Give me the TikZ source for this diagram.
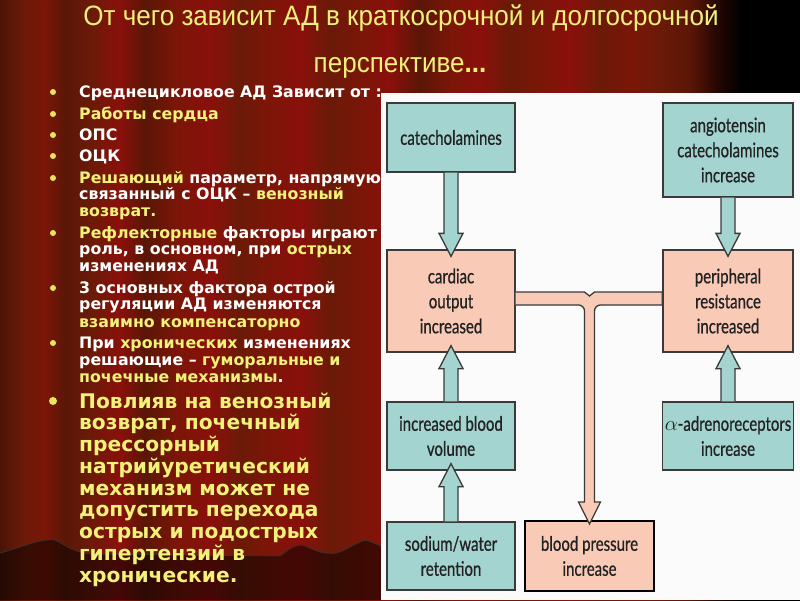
\documentclass[tikz,border=0pt]{standalone}
\usepackage{fontspec}
\setmainfont{DejaVu Sans}
\newfontfamily\titlefont[FakeStretch=0.93]{Liberation Sans}
\newfontfamily\bodyfont{DejaVu Sans}
\newfontfamily\boxfont[FakeStretch=0.75,FakeBold=0.7]{Lato}
\usetikzlibrary{calc}
\definecolor{teal1}{HTML}{A3D4CF}
\definecolor{pink1}{HTML}{F9CAB6}
\definecolor{boxline}{HTML}{3A3A3A}
\definecolor{boxtext}{HTML}{222222}
\definecolor{ytext}{HTML}{F2F27A}
\definecolor{ttext}{HTML}{F0F07C}
\definecolor{bulletcol}{HTML}{E6E65A}
\definecolor{panelcol}{HTML}{FBFBFB}
\definecolor{cA}{HTML}{4A1407}
\definecolor{cB}{HTML}{6B1A08}
\definecolor{cC}{HTML}{8A100B}
\definecolor{cD}{HTML}{7A1608}
\definecolor{cE}{HTML}{5A1606}
\definecolor{cF}{HTML}{2A0803}
\definecolor{cK}{HTML}{000000}
\newcommand\Y[1]{\textcolor{ytext}{#1}}
\newcommand\txtline[4]{\node[#1, anchor=base west] (#2) at (79,#3) {#4};}
\newcommand\downblock[3]{%
  \draw[blockline,fill=#3] let \p1=(#1.south), \p2=(#2.north) in
  (\x1-7pt,\y1) -- (\x1-7pt,\y2+16pt) -- (\x1-12pt,\y2+16pt) -- (\x1,\y2-7pt)
  -- (\x1+12pt,\y2+16pt) -- (\x1+7pt,\y2+16pt) -- (\x1+7pt,\y1);}
\newcommand\upblock[3]{%
  \draw[blockline,fill=#3] let \p1=(#1.north), \p2=(#2.south) in
  (\x1-7pt,\y1) -- (\x1-7pt,\y2-16pt) -- (\x1-12pt,\y2-16pt) -- (\x1,\y2+7pt)
  -- (\x1+12pt,\y2-16pt) -- (\x1+7pt,\y2-16pt) -- (\x1+7pt,\y1);}
\tikzset{
  smalltxt/.style={font=\bodyfont\bfseries\fontsize{15.8}{17}\selectfont, text=white, inner sep=0pt},
  bigtxt/.style={font=\bodyfont\bfseries\fontsize{20.2}{21}\selectfont, text=ytext, inner sep=0pt},
  titletxt/.style={font=\titlefont\fontsize{28}{30}\selectfont, text=ttext, inner sep=0pt, anchor=base},
  boxbase/.style={draw=boxline, line width=1.3pt, inner sep=2pt, align=center,
    font=\boxfont\fontsize{20}{25}\selectfont, text=boxtext},
  tealbox/.style={boxbase, fill=teal1},
  pinkbox/.style={boxbase, fill=pink1},
  blockline/.style={draw=boxline, line width=1.3pt, line join=miter},
}
\begin{document}
\begin{tikzpicture}[x=1pt,y=-1pt]
\useasboundingbox (0,0) rectangle (800,600);
% curtain background
\foreach \xa/\xb/\ca/\cb in {0/22/cA/cB,22/45/cB/cD,45/65/cD/cE,65/90/cE/cB,90/120/cB/cC,
  120/145/cC/cE,145/175/cE/cD,175/210/cD/cC,210/240/cC/cB,240/265/cB/cD,265/300/cD/cC,
  300/330/cC/cB,330/360/cB/cD,360/390/cD/cC,390/420/cC/cE,420/450/cE/cD,450/480/cD/cC,
  480/510/cC/cB,510/540/cB/cD,540/570/cD/cC,570/600/cC/cB,600/630/cB/cD,630/660/cD/cB,
  660/690/cB/cE,690/715/cE/cF,715/740/cF/cK,740/800/cK/cK}
  {\shade[left color=\ca,right color=\cb] (\xa-0.4,0) rectangle (\xb+0.4,600);}
% bottom stage curtain
\fill[black,opacity=0.5] (0,600) -- (0,553) .. controls (20,548) and (40,538) .. (55,540)
  .. controls (65,545) and (75,553) .. (92,554) -- (280,556)
  .. controls (288,550) and (294,545) .. (302,545) .. controls (312,548) and (320,555) .. (336,553)
  .. controls (348,550) and (356,542) .. (366,540) -- (381,546) -- (381,600) -- cycle;
\draw[black!80,line width=0.8pt] (0,553) .. controls (20,548) and (40,538) .. (55,540)
  .. controls (65,545) and (75,553) .. (92,554) -- (280,556)
  .. controls (288,550) and (294,545) .. (302,545) .. controls (312,548) and (320,555) .. (336,553)
  .. controls (348,550) and (356,542) .. (366,540) -- (381,546);
% title
\node[titletxt] (t1) at (401,25) {От чего зависит АД в краткосрочной и долгосрочной};
\node[titletxt] (t2) at (400,72) {перспективе{\bfseries...}};
% bullets
\foreach \yy in {92,114,135,156,178,233,288,343} {\fill[bulletcol] (53,\yy) circle (3pt);}
\fill[bulletcol] (53,401) circle (4pt);
\txtline{smalltxt}{b1}{97}{Среднецикловое АД Зависит от :}
\txtline{smalltxt}{b2}{119}{\Y{Работы сердца}}
\txtline{smalltxt}{b3}{140}{ОПС}
\txtline{smalltxt}{b4}{161}{ОЦК}
\txtline{smalltxt}{b5a}{183}{\Y{Решающий} параметр, напрямую}
\txtline{smalltxt}{b5b}{199}{связанный с ОЦК – \Y{венозный}}
\txtline{smalltxt}{b5c}{216}{\Y{возврат.}}
\txtline{smalltxt}{b6a}{238}{\Y{Рефлекторные} факторы играют}
\txtline{smalltxt}{b6b}{254}{роль, в основном, при \Y{острых}}
\txtline{smalltxt}{b6c}{271}{изменениях АД}
\txtline{smalltxt}{b7a}{293}{3 основных фактора острой}
\txtline{smalltxt}{b7b}{309}{регуляции АД изменяются}
\txtline{smalltxt}{b7c}{327}{\Y{взаимно компенсаторно}}
\txtline{smalltxt}{b8a}{348}{При \Y{хронических} изменениях}
\txtline{smalltxt}{b8b}{365}{решающие – \Y{гуморальные и}}
\txtline{smalltxt}{b8c}{382}{\Y{почечные механизмы}.}
\txtline{bigtxt}{b9a}{408}{Повлияв на венозный}
\txtline{bigtxt}{b9b}{429.75}{возврат, почечный}
\txtline{bigtxt}{b9c}{451.5}{прессорный}
\txtline{bigtxt}{b9d}{473.25}{натрийуретический}
\txtline{bigtxt}{b9e}{495}{механизм может не}
\txtline{bigtxt}{b9f}{516.75}{допустить перехода}
\txtline{bigtxt}{b9g}{538.5}{острых и подострых}
\txtline{bigtxt}{b9h}{560.25}{гипертензий в}
\txtline{bigtxt}{b9i}{582}{хронические.}
% diagram panel
\fill[panelcol] (381,93) rectangle (800,600);
% boxes
\node[tealbox, minimum width=128pt, minimum height=69pt] (cat) at (451,137.5) {catecholamines};
\node[tealbox, minimum width=130pt, minimum height=94pt] (ang) at (728,150) {angiotensin\\catecholamines\\increase};
\node[pinkbox, minimum width=128pt, minimum height=102pt] (co) at (451,301) {cardiac\\output\\increased};
\node[pinkbox, minimum width=130pt, minimum height=102pt] (pr) at (728,301) {peripheral\\resistance\\increased};
\node[tealbox, minimum width=128pt, minimum height=68pt] (bv) at (451,436) {increased blood\\volume};
\node[tealbox, minimum width=130pt, minimum height=68pt] (al) at (728,436) {$\alpha$-adrenoreceptors\\increase};
\node[tealbox, minimum width=128pt, minimum height=68pt] (sw) at (451,556) {sodium/water\\retention};
\node[pinkbox, minimum width=129pt, minimum height=70pt, line width=2pt, draw=black] (bp) at (589.5,556) {blood pressure\\increase};
% block arrows
\downblock{cat}{co}{teal1}
\downblock{ang}{pr}{teal1}
\upblock{bv}{co}{teal1}
\upblock{sw}{bv}{teal1}
\upblock{al}{pr}{teal1}
% pink branching connector
\draw[blockline,fill=pink1] let \p1=(co.east), \p2=(pr.west), \p3=(bp.north) in
  (\x1,\y1+9pt) -- (\x3-5pt,\y1+9pt) -- (\x3,\y1+5pt) -- (\x3+5pt,\y1+9pt) -- (\x2,\y1+9pt)
  -- (\x2,\y1-4pt) -- (\x3+11pt,\y1-4pt) to[out=180,in=90] (\x3+5pt,\y1-10pt)
  -- (\x3+5pt,\y3+18pt) -- (\x3+11pt,\y3+18pt) -- (\x3,\y3-4pt) -- (\x3-11pt,\y3+18pt)
  -- (\x3-5pt,\y3+18pt) -- (\x3-5pt,\y1-10pt) to[out=90,in=0] (\x3-11pt,\y1-4pt)
  -- (\x1,\y1-4pt);
\end{tikzpicture}
\end{document}
